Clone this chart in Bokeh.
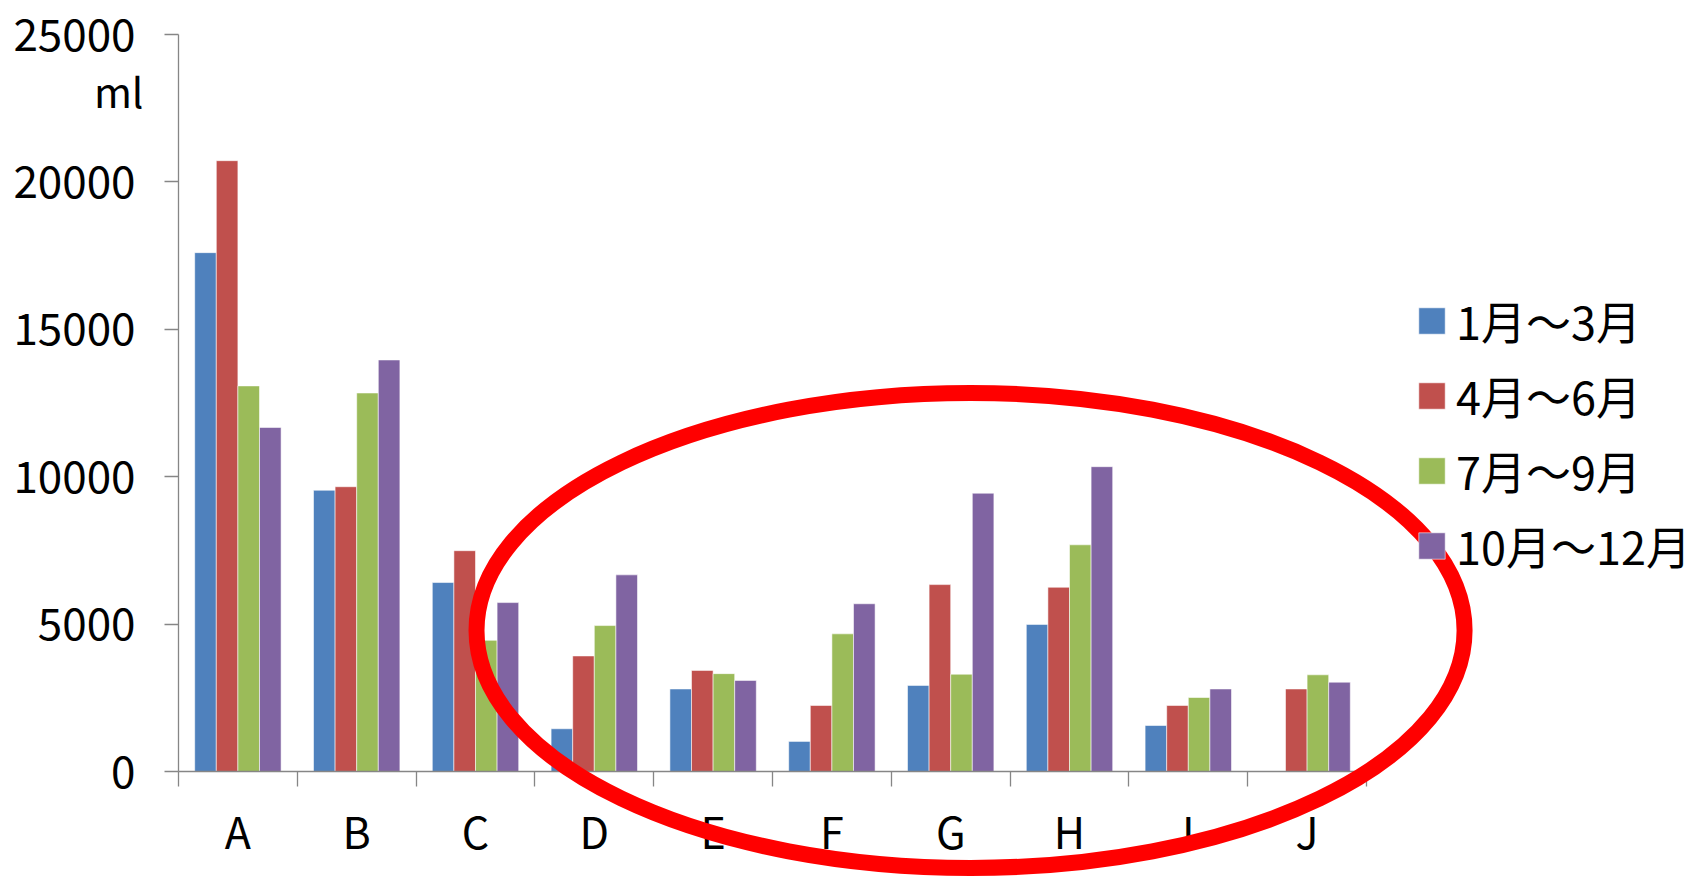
from bokeh.embed import file_html
from bokeh.models import (FixedTicker, Label, Legend, LegendItem, LinearAxis,
                          Range1d)
from bokeh.plotting import figure
from bokeh.resources import INLINE
from bokeh.transform import dodge

# --- data -------------------------------------------------------------------
categories = ["A", "B", "C", "D", "E", "F", "G", "H", "I", "J"]
series_names = ["1月～3月", "4月～6月", "7月～9月", "10月～12月"]
q1_values = [17600, 9540, 6410, 1450, 2800, 1020, 2920, 4990, 1560, 0]
q2_values = [20720, 9660, 7490, 3920, 3430, 2240, 6340, 6250, 2240, 2800]
q3_values = [13080, 12840, 4450, 4950, 3320, 4670, 3300, 7690, 2510, 3280]
q4_values = [11670, 13960, 5730, 6670, 3090, 5690, 9440, 10340, 2800, 3030]
y_ticks = [0, 5000, 10000, 15000, 20000, 25000]
unit_label = "ml"

series_values = [q1_values, q2_values, q3_values, q4_values]
colors = ["#4F81BD", "#C0504D", "#9BBB59", "#8064A2"]

FONT = "Noto Sans CJK JP"
GRAY = "#868686"
W, H = 1693, 878

n_cat = len(categories)
y_max = y_ticks[-1]
centers = [i + 0.5 for i in range(n_cat)]
bar_w = 1 / 5.5  # four bars plus a 150% gap per category

# The plotting frame fills the whole canvas; the axes are pinned at 0 so that
# the highlight ring can run past the value area without being clipped.
px_left, px_right = 178, 1366      # x = 0 and x = n_cat
px_top, px_base = 34, 771          # y = y_max and y = 0
sx = (px_right - px_left) / n_cat
sy = (px_base - px_top) / y_max
x_range = Range1d(-px_left / sx, n_cat + (W - px_right) / sx)
y_range = Range1d(-(H - px_base) / sy, y_max + px_top / sy)

source = {"x": centers}
for k, vals in enumerate(series_values):
    source[f"s{k}"] = vals

p = figure(width=W, height=H, output_backend="svg", toolbar_location=None,
           x_range=x_range, y_range=y_range,
           min_border_left=0, min_border_right=0,
           min_border_top=0, min_border_bottom=0,
           x_axis_type=None, y_axis_type=None)
p.outline_line_color = None
p.background_fill_color = "white"
p.border_fill_color = "white"

# value axis with outward ticks
yaxis = LinearAxis(ticker=FixedTicker(ticks=y_ticks), fixed_location=0,
                   bounds=(0, y_max))
yaxis.axis_line_color = GRAY
yaxis.axis_line_width = 1.3
yaxis.major_tick_line_color = GRAY
yaxis.major_tick_line_width = 1.3
yaxis.major_tick_in = 0
yaxis.major_tick_out = 14
yaxis.minor_tick_line_color = None
yaxis.major_label_standoff = 29
yaxis.major_label_text_font = FONT
yaxis.major_label_text_font_size = "44px"
yaxis.major_label_text_color = "black"
p.add_layout(yaxis, "left")

# category axis: labels at category centres, tick marks at boundaries
xaxis = LinearAxis(ticker=FixedTicker(ticks=centers,
                                      minor_ticks=list(range(n_cat + 1))),
                   fixed_location=0, bounds=(0, n_cat))
xaxis.major_label_overrides = {c: cat for c, cat in zip(centers, categories)}
xaxis.axis_line_color = GRAY
xaxis.axis_line_width = 1.3
xaxis.major_tick_line_color = None
xaxis.major_tick_in = 0
xaxis.major_tick_out = 0
xaxis.minor_tick_line_color = GRAY
xaxis.minor_tick_line_width = 1.3
xaxis.minor_tick_in = 0
xaxis.minor_tick_out = 15
xaxis.major_label_standoff = 12
xaxis.major_label_text_font = FONT
xaxis.major_label_text_font_size = "43px"
xaxis.major_label_text_color = "black"
p.add_layout(xaxis, "below")

p.ygrid.ticker = FixedTicker(ticks=y_ticks)
p.ygrid.bounds = (0, n_cat)
p.ygrid.grid_line_color = GRAY
p.ygrid.grid_line_width = 1.3
p.xgrid.grid_line_color = None

# grouped bars
renderers = []
for k, name in enumerate(series_names):
    offset = (k - 1.5) * bar_w
    r = p.vbar(x=dodge("x", offset, range=p.x_range), top=f"s{k}", width=bar_w,
               bottom=0, source=source, fill_color=colors[k],
               line_color="white", line_alpha=0.55, line_width=1)
    renderers.append(r)

# unit caption next to the top of the value axis
p.add_layout(Label(x=-35 / sx, y=y_max - 55 / sy, text=unit_label,
                   text_align="right", text_baseline="middle", text_font=FONT,
                   text_font_size="41px", text_color="black"))

legend = Legend(items=[LegendItem(label=n, renderers=[r])
                       for n, r in zip(series_names, renderers)],
                location=(1415, 300), orientation="vertical",
                glyph_width=33, glyph_height=33, label_standoff=8,
                label_text_font=FONT, label_text_font_size="45px",
                label_text_color="black", spacing=10, padding=0, margin=0,
                border_line_alpha=0, background_fill_alpha=0)
p.add_layout(legend)

# red highlight ring around categories D..J
ring_x, ring_y = 6.667, 4783
ring_w, ring_h = 8.317, 16110
p.ellipse(x=ring_x, y=ring_y, width=ring_w, height=ring_h, fill_alpha=0,
          line_color="#FF0000", line_width=16, level="overlay")

open("out.html", "w").write(file_html(p, INLINE))
